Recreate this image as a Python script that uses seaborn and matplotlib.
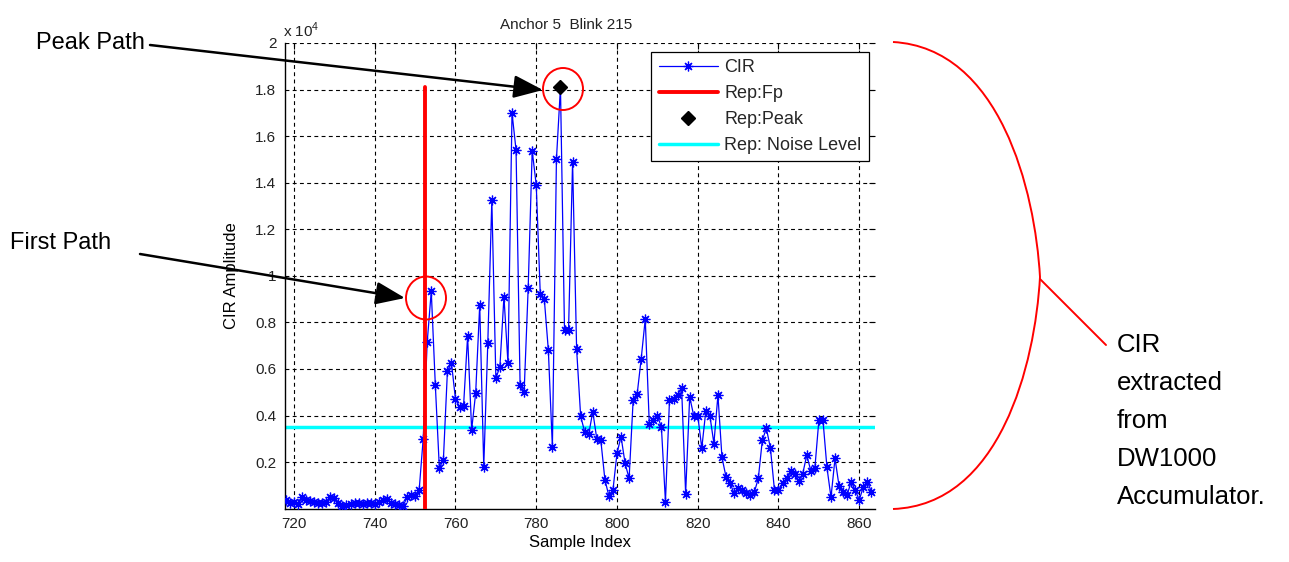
import matplotlib
matplotlib.use("Agg")
import numpy as np
import pandas as pd
import matplotlib.pyplot as plt
import seaborn as sns
from matplotlib import font_manager
from matplotlib.patches import Ellipse, PathPatch
from matplotlib.path import Path

# ---------------- data ----------------
sample_index = list(range(718, 864))
cir_amplitude = [
    370, 230, 300, 200, 500, 370, 340, 300, 260, 230,        # 718-727
    300, 500, 480, 230, 110, 160, 200, 230, 230, 200,        # 728-737
    230, 230, 200, 300, 370, 400, 260, 200, 160, 110,        # 738-747
    490, 590, 540, 800, 3000, 7170, 9340, 5330, 1760, 2090,  # 748-757
    5900, 6260, 4700, 4380, 4420, 7410, 3390, 4970, 8750, 1810,  # 758-767
    7100, 13250, 5600, 6100, 9100, 6250, 17000, 15400, 5300, 5000,  # 768-777
    9460, 15370, 13900, 9200, 9000, 6800, 2630, 15000, 18100, 7660,  # 778-787
    7660, 14900, 6850, 3970, 3300, 3200, 4170, 3000, 2930, 1250,  # 788-797
    540, 800, 2380, 3100, 1950, 1300, 4660, 4930, 6450, 8150,   # 798-807
    3630, 3790, 4000, 3500, 300, 4660, 4720, 4900, 5200, 650,   # 808-817
    4800, 4000, 4000, 2600, 4200, 4000, 2800, 4880, 2200, 1370,  # 818-827
    1100, 660, 870, 800, 660, 590, 700, 1300, 2950, 3450,       # 828-837
    2600, 800, 800, 1100, 1300, 1600, 1500, 1200, 1500, 2300,   # 838-847
    1630, 1730, 3800, 3830, 1770, 490, 2160, 970, 730, 590,     # 848-857
    1160, 800, 370, 940, 1160, 730,                             # 858-863
]
fp_index = 752.4
peak_index = 786
peak_amplitude = 18100
noise_level = 3520
x_ticks = [720, 740, 760, 780, 800, 820, 840, 860]
y_ticks = [2000, 4000, 6000, 8000, 10000, 12000, 14000, 16000, 18000, 20000]
y_tick_labels = ["0.2", "0.4", "0.6", "0.8", "1", "1.2", "1.4", "1.6", "1.8", "2"]
legend_labels = ["CIR", "Rep:Fp", "Rep:Peak", "Rep: Noise Level"]
title_text = "Anchor 5  Blink 215"
x_label = "Sample Index"
y_label = "CIR Amplitude"
side_text = ["CIR", "extracted", "from", "DW1000", "Accumulator."]

# ---------------- style ----------------
sns.set_theme(style="white")
names = {f.name for f in font_manager.fontManager.ttflist}
chart_font = "Liberation Sans Narrow" if "Liberation Sans Narrow" in names else "Liberation Sans"
plt.rcParams["font.family"] = [chart_font, "DejaVu Sans"]
plt.rcParams["mathtext.fontset"] = "custom"
plt.rcParams["mathtext.rm"] = chart_font

W, H = 1289, 562
fig = plt.figure(figsize=(W / 100, H / 100), dpi=100)
fig.patch.set_facecolor("white")
L, R, T, B = 284.7, 875.4, 43.0, 508.7
ax = fig.add_axes([L / W, 1 - B / H, (R - L) / W, (B - T) / H])
ax.set_facecolor("white")

df = pd.DataFrame({"idx": sample_index, "amp": cir_amplitude})
sns.lineplot(data=df, x="idx", y="amp", ax=ax, color="blue", lw=0.9,
             marker=(8, 2, 0), markersize=7, mec="blue", mew=0.9,
             label=legend_labels[0], sort=False, estimator=None, zorder=3)
ax.plot([fp_index, fp_index], [0, peak_amplitude], color="red", lw=2.8,
        label=legend_labels[1], zorder=4)
ax.plot([peak_index], [peak_amplitude], linestyle="none", marker="D",
        color="black", ms=7, label=legend_labels[2], zorder=5)
ax.axhline(noise_level, color="cyan", lw=2.5, label=legend_labels[3], zorder=2)

ax.set_xlim(717.7, 864.0)
ax.set_ylim(0, 20000)
ax.set_xticks(x_ticks)
ax.set_xticklabels([str(v) for v in x_ticks])
ax.set_yticks(y_ticks)
ax.set_yticklabels(y_tick_labels)
ax.grid(True, color="black", linestyle=(0, (3.5, 3)), linewidth=0.8)
ax.set_axisbelow(True)
for s in ["top", "right"]:
    ax.spines[s].set_visible(False)
for s in ["left", "bottom"]:
    ax.spines[s].set_color("black")
    ax.spines[s].set_linewidth(1.0)
ax.tick_params(direction="in", length=4, width=0.8, top=True, right=True,
               labelsize=11, colors="black", labelcolor="#222222", pad=6)
ax.set_xlabel(x_label, fontsize=12, color="black", labelpad=3)
ax.set_ylabel(y_label, fontsize=12, color="black", labelpad=12)

leg = ax.legend(loc="upper right", bbox_to_anchor=(0.989, 0.981), borderaxespad=0,
                fancybox=False, framealpha=1, edgecolor="black", fontsize=13,
                handlelength=3.3, handletextpad=0.35, labelspacing=0.5,
                borderpad=0.4, numpoints=1)
leg.get_frame().set_linewidth(0.9)

# ---------------- overlay annotations (pixel coords) ----------------
ov = fig.add_axes([0, 0, 1, 1], zorder=10)
ov.set_xlim(0, W)
ov.set_ylim(H, 0)
ov.axis("off")
ov.patch.set_alpha(0)

ov.text(566, 25, title_text, ha="center", va="center", fontsize=11, color="#222222")
ov.text(283, 30, r"x 10$^{4}$", ha="left", va="center", fontsize=11, color="#222222")

ov.add_patch(Ellipse((563, 89), 40, 42, fill=False, edgecolor="red", lw=1.4))
ov.add_patch(Ellipse((426, 298), 40, 43, fill=False, edgecolor="red", lw=1.4))

arrow_kw = dict(arrowstyle="-|>,head_length=0.9,head_width=0.35", color="black",
                lw=1.8, mutation_scale=20, shrinkA=0, shrinkB=0)
ov.annotate("", xy=(543, 90), xytext=(150, 45), arrowprops=arrow_kw)
ov.annotate("", xy=(405, 298), xytext=(140, 254), arrowprops=arrow_kw)

ov.text(36, 43, "Peak Path", ha="left", va="center", fontsize=17,
        family="Liberation Sans", color="black")
ov.text(10, 243, "First Path", ha="left", va="center", fontsize=17,
        family="Liberation Sans", color="black")

verts = [(893, 42), (1000, 48), (1035, 190), (1040, 277),
         (1035, 365), (1000, 505), (893, 509)]
codes = [Path.MOVETO, Path.CURVE4, Path.CURVE4, Path.CURVE4,
         Path.CURVE4, Path.CURVE4, Path.CURVE4]
ov.add_patch(PathPatch(Path(verts, codes), fill=False, edgecolor="red", lw=1.4))
ov.plot([1040, 1106], [279, 345], color="red", lw=1.4)

for i, line in enumerate(side_text):
    ov.text(1117, 345 + i * 38, line, ha="left", va="center", fontsize=18.5,
            family="Liberation Sans", color="black")

fig.savefig("out.png", dpi=100, facecolor="white")
